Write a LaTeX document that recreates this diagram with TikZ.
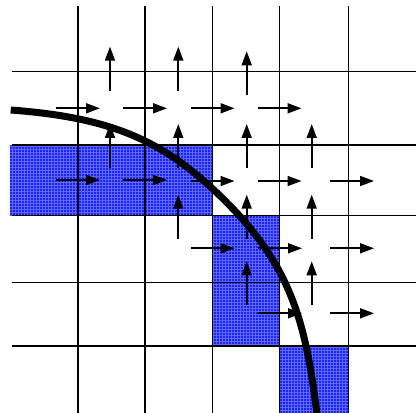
\documentclass[tikz,border=0pt]{standalone}
\usepackage{xcolor}
\usepackage{tikz}
\usetikzlibrary{arrows.meta, patterns}
\definecolor{cellblue}{RGB}{30,34,250}
\definecolor{celldots}{RGB}{92,104,255}
\tikzset{
  gridln/.style={draw=black, line width=1.6pt},
  solid cell/.style={fill=cellblue},
  cell tex/.style={pattern=grid, pattern color=celldots},
  vel/.style={-{Triangle[length=14pt,width=10pt]}, line width=1.7pt, draw=black},
  surf/.style={draw=black, line width=7pt}
}
\begin{document}
\begin{tikzpicture}[x=1pt, y=1pt]
\useasboundingbox (0,0) rectangle (416,413);
% solid cells
\foreach \ca/\cb in {{(10,268)}/{(212.5,197.3)},{(212.5,197.3)}/{(279.5,66.7)},{(279.5,66.7)}/{(348.3,0)}}{
  \fill[solid cell] \ca rectangle \cb;
  \fill[cell tex] \ca rectangle \cb;
}
% grid
\foreach \gx in {78,145,212.5,279.5,348.3}
  \draw[gridln] (\gx,407) -- (\gx,0);
\foreach \gy in {341.3,268,197.3,130.3,66.7}
  \draw[gridln] (12,\gy) -- (416,\gy);
% horizontal velocities
\foreach \ux/\uy in {78/304.7,145/304.7,212.5/304.7,279.5/304.7,
                     78/233,145/233,212.5/232,279.5/232,352/232,
                     212.5/164.7,280/164.7,352/164.7,
                     280/99.7,352/99.7}
  \draw[vel] ({\ux-22},\uy) -- ({\ux+22},\uy);
% vertical velocities
\foreach \vx/\vy in {110/344.3,178.3/344.3,246.7/339.7,
                     110/267,178.3/267,246.7/267,311.7/267,
                     178.3/196.3,246.7/196.3,311.7/196.3,
                     246.7/129.7,311.7/129.7}
  \draw[vel] (\vx,{\vy-22}) -- (\vx,{\vy+22});
% free surface
\coordinate (fsA) at (10.7,303);
\coordinate (fsM) at (226.3,211);
\coordinate (fsB) at (317,-2);
\draw[surf] (fsA) .. controls (115,295.2) and (166.2,271.1) .. (fsM)
            .. controls (291.3,146) and (306.1,89.4) .. (fsB);
\end{tikzpicture}
\end{document}
